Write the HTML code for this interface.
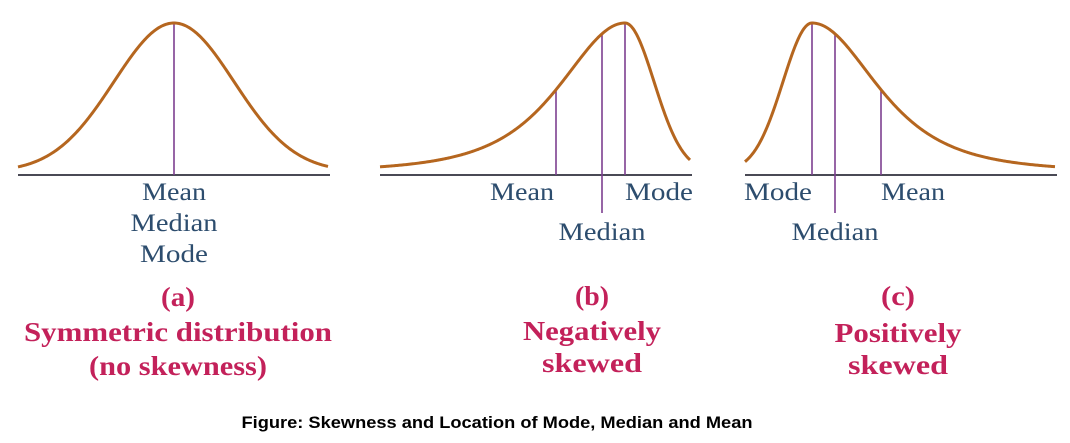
<!DOCTYPE html>
<html><head><meta charset="utf-8"><style>
html,body{margin:0;padding:0;background:#fff;}
svg{display:block;}
.lbl{font-family:"Liberation Serif",serif;font-size:25px;fill:#2d4d6e;text-anchor:middle;}
.ttl{font-family:"Liberation Serif",serif;font-size:27px;font-weight:bold;fill:#c3215a;text-anchor:middle;}
.cap{font-family:"Liberation Sans",sans-serif;font-size:17px;font-weight:bold;fill:#000;text-anchor:middle;}
</style></head><body>
<svg id="chart" width="1070" height="443" viewBox="0 0 1070 443">
<g id="panels"></g>
<text class="cap" x="497" y="428" textLength="511" lengthAdjust="spacingAndGlyphs">Figure: Skewness and Location of Mode, Median and Mean</text>
</svg>
<script>
// data per panel
const panelNames = ["symmetric", "negative", "positive"];
const axisStart = [18, 380, 745];
const axisEnd = [330, 692, 1057];
const modes = [174, 625, 812];
const medians = [174, 602, 835];
const means = [174, 556, 881];
const leftSpread = [60, 83, 29];
const rightSpread = [60, 29, 83];
const leftHeavy = [false, true, false];
const rightHeavy = [false, false, true];
const titleLines = [["(a)","Symmetric distribution","(no skewness)"],["(b)","Negatively","skewed"],["(c)","Positively","skewed"]];
const titleY = [[306,341,375],[305,340,372],[305,342,374]];
const titleWidths = [[34,308,178],[34,138,100],[34,127,100]];
const labelWidths = {Mean: 64, Median: 87, Mode: 68};

const NS = "http://www.w3.org/2000/svg";
const axisY = 175, base = 172, H = 149;
function shape(d, s, heavy){
  if (heavy) return Math.pow(1 + d*d/(2*s*s), -2);
  return Math.exp(-d*d/(2*s*s));
}
function curveY(p, x){
  const d = x - modes[p];
  const f = d < 0 ? shape(-d, leftSpread[p], leftHeavy[p]) : shape(d, rightSpread[p], rightHeavy[p]);
  return base - H*f;
}
function mk(tag, attrs){
  const e = document.createElementNS(NS, tag);
  for (const k in attrs) e.setAttribute(k, attrs[k]);
  return e;
}
const root = document.getElementById("panels");
panelNames.forEach((nm, p) => {
  const g = mk("g", {});
  
  
  root.appendChild(g);
  const ax = mk("line", {x1: axisStart[p], x2: axisEnd[p], y1: axisY, y2: axisY, stroke: "#4a4a55", "stroke-width": 2});
  
  
  g.appendChild(ax);
  const marks = p === 0 ? [["center", means[p], axisY]] :
    [["mean", means[p], axisY], ["median", medians[p], 213], ["mode", modes[p], axisY]];
  marks.forEach(m => {
    const ln = mk("line", {x1: m[1], x2: m[1], y1: curveY(p, m[1]), y2: m[2], stroke: "#7d3f8f", "stroke-width": 1.6});
    
    
    g.appendChild(ln);
  });
  let dstr = "";
  for (let x = axisStart[p]; x <= axisEnd[p] - 2; x += 1) {
    dstr += (dstr ? "L" : "M") + x + "," + curveY(p, x).toFixed(2);
  }
  const path = mk("path", {d: dstr, fill: "none", stroke: "#b5661f", "stroke-width": 3});
  
  
  g.appendChild(path);
  let labels;
  if (p === 0) labels = [["Mean", modes[p], 200], ["Median", modes[p], 231], ["Mode", modes[p], 262]];
  else if (p === 1) labels = [["Mean", means[p] - 34, 200], ["Median", medians[p], 240], ["Mode", modes[p] + 34, 200]];
  else labels = [["Mode", modes[p] - 34, 200], ["Median", medians[p], 240], ["Mean", means[p] + 32, 200]];
  labels.forEach(l => {
    const t = mk("text", {x: l[1], y: l[2], "class": "lbl", textLength: labelWidths[l[0]], lengthAdjust: "spacingAndGlyphs"});
    t.textContent = l[0];
    
    
    g.appendChild(t);
  });
  const cx = [178, 592, 898][p];
  titleLines[p].forEach((s, i) => {
    const t = mk("text", {x: cx, y: titleY[p][i], "class": "ttl", textLength: titleWidths[p][i], lengthAdjust: "spacingAndGlyphs"});
    t.textContent = s;
    
    
    g.appendChild(t);
  });
});
</script>
</body></html>
